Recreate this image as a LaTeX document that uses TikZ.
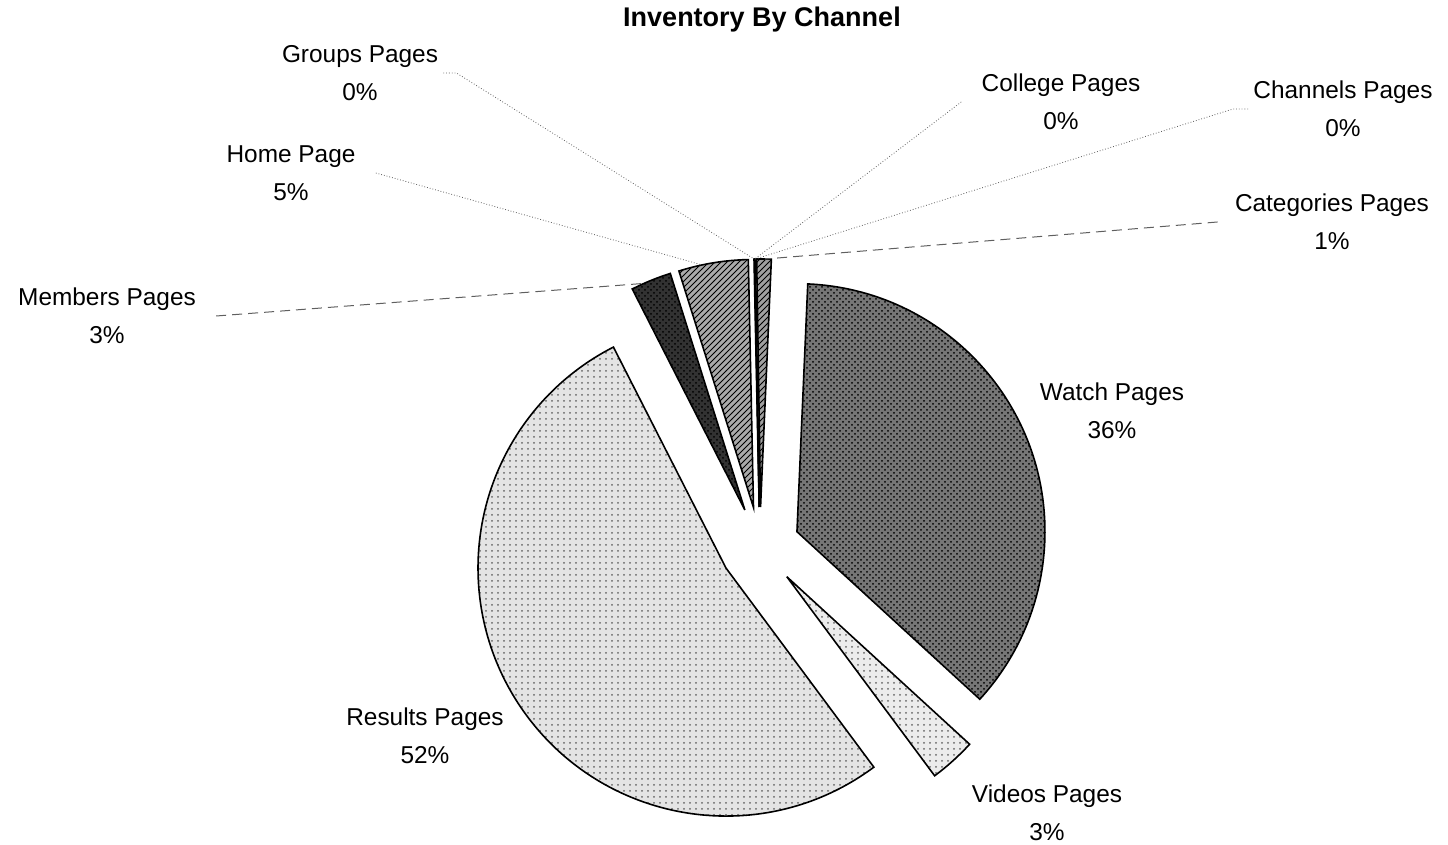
\documentclass[tikz,border=0pt]{standalone}
\usepackage{fontspec}
\setmainfont{Liberation Sans}
\usepackage{tikz}
\usetikzlibrary{patterns}
\definecolor{leadgray}{RGB}{95,95,95}
\definecolor{watchgray}{RGB}{118,118,118}
\definecolor{membersgray}{RGB}{50,50,50}
\definecolor{homegray}{RGB}{170,170,170}
\definecolor{catgray}{RGB}{160,160,160}
\definecolor{resultsgray}{RGB}{228,228,228}
\definecolor{videosgray}{RGB}{236,236,236}

\begin{document}
\begin{tikzpicture}[x=0.5pt, y=0.5pt,
  slice/.style={draw=black, line width=0.8pt, line join=miter},
  lbl/.style={align=center, inner sep=0pt, font=\fontsize{12.2}{19}\selectfont},
  leader/.style={draw=leadgray, line width=0.4pt, densely dotted},
  leaderdash/.style={draw=leadgray, line width=0.5pt, dash pattern=on 5pt off 3pt}]
\useasboundingbox (0,0) rectangle (1448,845);

\node (title) at (762,825) {\fontsize{13.5}{16}\selectfont\bfseries Inventory By Channel};

% exploded slices, clockwise from Watch Pages
\foreach \nm/\a/\b/\fc/\pat/\pc in {
  watch/87.5/-42.5/watchgray/crosshatch dots/black,
  videos/-42.5/-53.4/videosgray/dots/black!60,
  results/-53.4/-243/resultsgray/dots/black!60,
  members/117/107.5/membersgray/crosshatch dots/black,
  home/107.5/91.2/homegray/north east lines/black,
  groups/91.2/91.1/catgray/north east lines/black,
  college/91.1/91.0/catgray/north east lines/black,
  channels/91.0/90.9/catgray/north east lines/black,
  categories/90.9/87.5/catgray/north east lines/black}{
  \pgfmathsetmacro\mid{(\a+\b)/2}
  \draw[slice, preaction={fill=\fc}, pattern=\pat, pattern color=\pc]
    (760,298) ++(\mid:40) coordinate (\nm) -- ++(\a:248)
    arc[start angle=\a, end angle=\b, radius=248] -- cycle;
}

% where the leaders meet the slices
\path (members) ++(114:248) coordinate (membersEnd);
\path (home) ++(102:248) coordinate (homeEnd);
\path (groups) ++(91.15:248) coordinate (groupsEnd);
\path (college) ++(91.05:248) coordinate (collegeEnd);
\path (channels) ++(90.95:248) coordinate (channelsEnd);
\path (categories) ++(89:248) coordinate (categoriesEnd);

\node[lbl] (watchlbl) at (1112,434) {Watch Pages\\36\%};
\node[lbl] (resultslbl) at (425,109) {Results Pages\\52\%};
\node[lbl] (videoslbl) at (1047,32) {Videos Pages\\3\%};
\node[lbl] (memberslbl) at (107,529) {Members Pages\\3\%};
\node[lbl] (homelbl) at (291,672) {Home Page\\5\%};
\node[lbl] (groupslbl) at (360,772) {Groups Pages\\0\%};
\node[lbl] (collegelbl) at (1061,743) {College Pages\\0\%};
\node[lbl] (channelslbl) at (1343,736) {Channels Pages\\0\%};
\node[lbl] (categorieslbl) at (1332,623) {Categories Pages\\1\%};

\draw[leaderdash] ([xshift=10pt]memberslbl.east) -- (membersEnd);
\draw[leader] ([xshift=10pt]homelbl.east) -- (homeEnd);
\draw[leader] ([xshift=2.5pt]groupslbl.east) -- ++(6.5pt,0) -- (groupsEnd);
\draw[leader] ([xshift=-10pt]collegelbl.west) -- (collegeEnd);
\draw[leader] ([xshift=-2.5pt]channelslbl.west) -- ++(-7.5pt,0) -- (channelsEnd);
\draw[leaderdash] ([xshift=-8.5pt]categorieslbl.west) -- (categoriesEnd);
\end{tikzpicture}
\end{document}
